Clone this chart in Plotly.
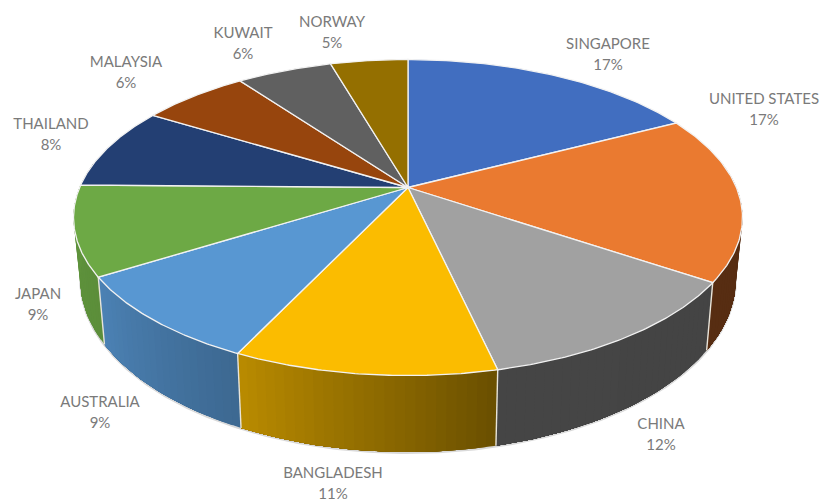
import numpy as np
import plotly.graph_objects as go

countries = ["SINGAPORE", "UNITED STATES", "CHINA", "BANGLADESH", "AUSTRALIA",
             "JAPAN", "THAILAND", "MALAYSIA", "KUWAIT", "NORWAY"]
values = [17.4, 17.05, 12.0, 10.65, 9.05, 9.15, 8.45, 6.25, 5.55, 4.5]
percent_labels = ["17%", "17%", "12%", "11%", "9%", "9%", "8%", "6%", "6%", "5%"]
colors = ["#416EC0", "#EA7A30", "#A1A1A1", "#FBBC00", "#5897D2",
          "#6DA945", "#233F73", "#97450D", "#606060", "#946F00"]
# brightness of each slice's outer wall at its clockwise start and end
wall_shade = [(.5, .5), (.37, .37), (.42, .43), (.42, .74), (.69, .86),
              (.84, .88), (.5, .5), (.5, .5), (.5, .5), (.5, .5)]
label_centres = [(608, 45), (764, 100), (661, 425), (333, 474), (100, 403),
                 (38, 295), (51, 125), (126, 63), (243, 34), (332, 23)]

# perspective of the pie, in pixels
CX, CY, A, B, K = 408, 187.5, 328.4, 152.3, 0.19
LINE_GAP = 21


def top_rim(t):
    t = np.asarray(t, float)
    w = 1 + K * np.cos(t)
    return CX + A * np.sin(t) / w, CY - B * np.cos(t) / w


def bottom_rim(t):
    x, y = top_rim(t)
    return CX + 0.98 * (x - CX), y + 59 + 0.093 * (y - CY)


def shade(hex_colour, f):
    r, g, b = (int(hex_colour[i:i + 2], 16) for i in (1, 3, 5))
    return f"rgb({r * f:.0f},{g * f:.0f},{b * f:.0f})"


fractions = np.array(values) / sum(values)
edges = np.concatenate([[0], np.cumsum(fractions)]) * 2 * np.pi
fig = go.Figure()


def poly(x, y, fill, line=None, width=0):
    fig.add_trace(go.Scatter(x=list(x), y=list(y), mode="lines", fill="toself",
                             fillcolor=fill, hoverinfo="skip",
                             line=dict(color=line or fill, width=width)))


# soft outline under the walls
vis = np.linspace(np.pi * 0.45, np.pi * 1.55, 300)
bx, by = bottom_rim(vis)
fig.add_trace(go.Scatter(x=bx, y=by + 1, mode="lines", hoverinfo="skip",
                         line=dict(color="#d9d9d9", width=2)))

# walls: front part only; each strip runs to the slice end, so the next one paints over it
for i in range(len(values)):
    lo, hi = max(edges[i], np.pi * 0.45), min(edges[i + 1], np.pi * 1.55)
    if hi <= lo:
        continue
    n = max(2, int((hi - lo) / 0.025))
    ts = np.linspace(lo, hi, n + 1)
    s0, s1 = wall_shade[i]
    for j in range(n):
        t = np.linspace(ts[j], hi, max(3, n - j + 1))
        xa, ya = top_rim(t)
        xb, yb = bottom_rim(t[::-1])
        col = shade(colors[i], s0 + (s1 - s0) * (j + .5) / n)
        poly(np.r_[xa, xb, xa[0]], np.r_[ya, yb, ya[0]], col)

# separators on the walls
for e in edges[1:-1]:
    if np.pi * 0.45 < e < np.pi * 1.55:
        xa, ya = top_rim(e)
        xb, yb = bottom_rim(e)
        fig.add_trace(go.Scatter(x=[xa, xb], y=[ya, yb], mode="lines", hoverinfo="skip",
                                 line=dict(color="#e8e4da", width=1.4)))

# top faces
for i in range(len(values)):
    t = np.linspace(edges[i], edges[i + 1], 80)
    x, y = top_rim(t)
    poly(np.r_[CX, x, CX], np.r_[CY, y, CY], colors[i], "#f2f2f2", 1.3)

# labels
fig.add_trace(go.Scatter(x=[c[0] for c in label_centres], y=[c[1] for c in label_centres],
                         text=countries, mode="text", hoverinfo="skip",
                         textfont=dict(family="Lato", size=15, color="#7a7a7a")))
fig.add_trace(go.Scatter(x=[c[0] for c in label_centres], y=[c[1] + LINE_GAP for c in label_centres],
                         text=percent_labels, mode="text", hoverinfo="skip",
                         textfont=dict(family="Lato", size=15, color="#7a7a7a")))

fig.update_layout(width=820, height=502, margin=dict(l=0, r=0, t=0, b=0),
                  paper_bgcolor="white", plot_bgcolor="white", showlegend=False,
                  xaxis=dict(range=[0, 820], visible=False, fixedrange=True),
                  yaxis=dict(range=[502, 0], visible=False, fixedrange=True))
fig.write_html("out.html", config={"displayModeBar": False},
               post_script="document.body.style.margin='0';document.body.style.overflow='hidden';")
